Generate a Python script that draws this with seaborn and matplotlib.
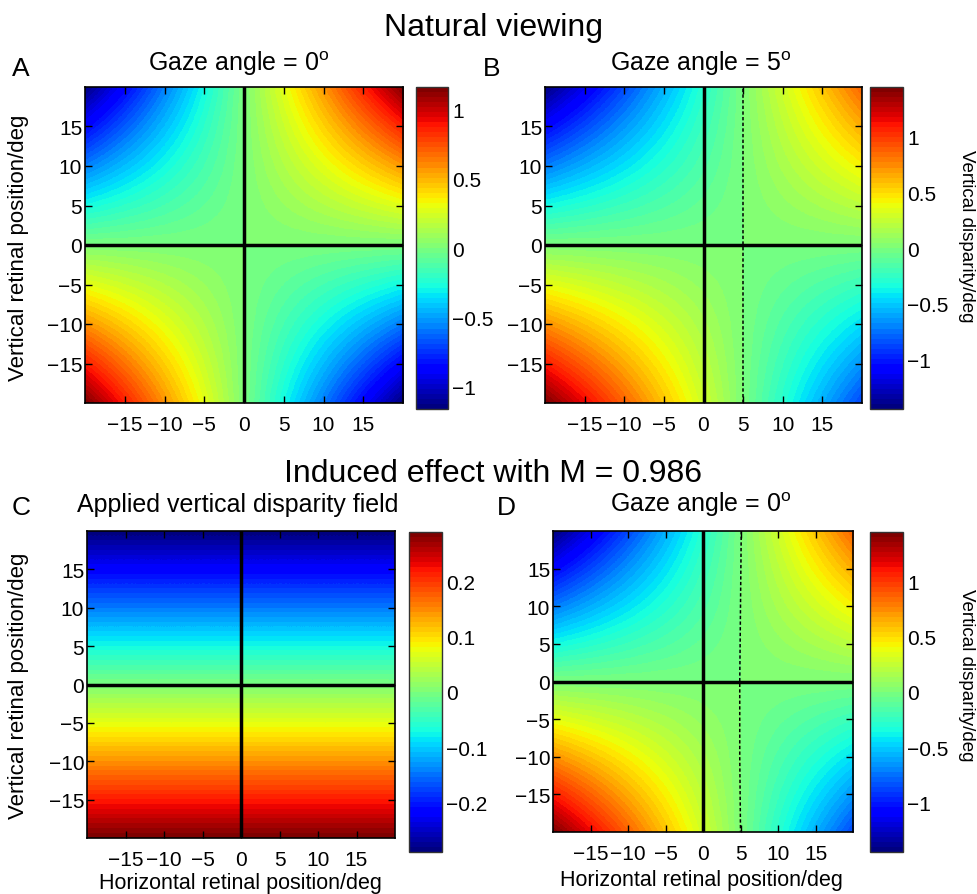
import numpy as np
import matplotlib
matplotlib.use("Agg")
import matplotlib.pyplot as plt
import seaborn as sns
from matplotlib.colors import ListedColormap, Normalize
from matplotlib.ticker import FuncFormatter

# ---------------- data ----------------
x_nodes = [-20, -10, 0, 10, 20]
y_nodes = [20, 10, 0, -10, -20]          # top row first

# A: natural viewing, gaze 0 deg
field_A = [[-1.16, -0.58, 0.00, 0.58, 1.16],
           [-0.58, -0.29, 0.00, 0.29, 0.58],
           [0.00, 0.00, 0.00, 0.00, 0.00],
           [0.58, 0.29, 0.00, -0.29, -0.58],
           [1.16, 0.58, 0.00, -0.58, -1.16]]
# B: natural viewing, gaze 5 deg
field_B = [[-1.45, -0.87, -0.29, 0.29, 0.87],
           [-0.73, -0.44, -0.15, 0.15, 0.44],
           [0.00, 0.00, 0.00, 0.00, 0.00],
           [0.73, 0.44, 0.15, -0.15, -0.44],
           [1.45, 0.87, 0.29, -0.29, -0.87]]
# C: applied vertical disparity field
field_C = [[-0.29, -0.29, -0.29, -0.29, -0.29],
           [-0.145, -0.145, -0.145, -0.145, -0.145],
           [0.00, 0.00, 0.00, 0.00, 0.00],
           [0.145, 0.145, 0.145, 0.145, 0.145],
           [0.29, 0.29, 0.29, 0.29, 0.29]]
# D: induced effect, gaze 0 deg
field_D = [[-1.45, -0.87, -0.29, 0.29, 0.87],
           [-0.73, -0.44, -0.15, 0.15, 0.44],
           [0.00, 0.00, 0.00, 0.00, 0.00],
           [0.73, 0.44, 0.15, -0.15, -0.44],
           [1.45, 0.87, 0.29, -0.29, -0.87]]

clim_A, clim_B, clim_C, clim_D = 1.16, 1.45, 0.29, 1.45
cticks_A = [-1, -0.5, 0, 0.5, 1]
cticks_B = [-1, -0.5, 0, 0.5, 1]
cticks_C = [-0.2, -0.1, 0, 0.1, 0.2]
cticks_D = [-1, -0.5, 0, 0.5, 1]
axis_ticks = [-15, -10, -5, 0, 5, 10, 15]

zero_B_x = [5.0, 5.0]
zero_B_y = [-20, 20]
zero_D_x = [5.1, 5.0, 4.9, 4.9, 5.0]
zero_D_y = [20, 10, 0, -10, -20]

# ---------------- style ----------------
sns.set_theme(style="white")
plt.rcParams['font.family'] = ['Liberation Sans', 'DejaVu Sans']
plt.rcParams['mathtext.fontset'] = 'custom'
plt.rcParams['mathtext.rm'] = 'Liberation Sans'
plt.rcParams['text.color'] = 'black'
plt.rcParams['axes.labelcolor'] = 'black'
plt.rcParams['xtick.color'] = 'black'
plt.rcParams['ytick.color'] = 'black'
plt.rcParams['axes.edgecolor'] = 'black'
cmap = ListedColormap(matplotlib.colormaps['jet'](np.linspace(0, 1, 64)))

W, H = 977, 895
fig = plt.figure(figsize=(W / 100, H / 100), dpi=100)
fig.patch.set_facecolor('white')


def box(l, t, r, b):
    return [l / W, 1 - b / H, (r - l) / W, (b - t) / H]


def ftxt(x, y, s, **kw):
    fig.text(x / W, 1 - y / H, s, color='black', **kw)


def fmt(v, pos):
    return ('%g' % v).replace('-', '\u2212')


def draw_panel(rect, cbrect, field, lim, cticks, zero=None):
    ax = fig.add_axes(box(*rect))
    Z = np.array(field)
    dx = x_nodes[1] - x_nodes[0]
    ext = [x_nodes[0] - dx / 2, x_nodes[-1] + dx / 2,
           y_nodes[-1] - dx / 2, y_nodes[0] + dx / 2]
    im = ax.imshow(Z, cmap=cmap, norm=Normalize(-lim, lim), extent=ext,
                   origin='upper', interpolation='bilinear',
                   interpolation_stage='data', aspect='auto')
    ax.set_xlim(-20, 20)
    ax.set_ylim(-20, 20)
    ax.axvline(0, color='black', lw=2.5)
    ax.axhline(0, color='black', lw=2.5)
    if zero is not None:
        ax.plot(zero[0], zero[1], color='black', lw=1.1, ls=(0, (2.2, 1.5)))
    ax.set_xticks(axis_ticks)
    ax.set_yticks(axis_ticks)
    ax.xaxis.set_major_formatter(FuncFormatter(fmt))
    ax.yaxis.set_major_formatter(FuncFormatter(fmt))
    ax.tick_params(direction='in', top=True, right=True, bottom=True, left=True,
                   length=5, width=1, labelsize=15, colors='black')
    ax.tick_params(axis='y', pad=2)
    ax.tick_params(axis='x', pad=8.5)
    for s in ax.spines.values():
        s.set_linewidth(1.2)
        s.set_color('black')
    cax = fig.add_axes(box(*cbrect))
    cb = fig.colorbar(im, cax=cax, ticks=cticks, format=FuncFormatter(fmt))
    cb.outline.set_linewidth(1.0)
    cb.outline.set_edgecolor('#333333')
    cax.tick_params(direction='in', left=True, right=True, labelleft=False,
                    labelright=True, length=4, width=0.8, labelsize=15, pad=3,
                    colors='black')
    return ax


draw_panel((85, 88, 403, 404), (416, 88, 448, 410), field_A, clim_A, cticks_A)
draw_panel((545, 88, 862, 404), (870, 88, 903, 410), field_B, clim_B, cticks_B,
           zero=(zero_B_x, zero_B_y))
draw_panel((87, 532, 395, 839), (409, 533, 442, 853), field_C, clim_C, cticks_C)
draw_panel((553, 532, 853, 833), (870, 533, 903, 853), field_D, clim_D, cticks_D,
           zero=(zero_D_x, zero_D_y))

# ---------------- texts ----------------
ftxt(494, 36, "Natural viewing", fontsize=23, ha='center', va='baseline')
ftxt(493, 482, "Induced effect with M = 0.986", fontsize=23, ha='center', va='baseline')
ftxt(12, 76, "A", fontsize=19, ha='left', va='baseline')
ftxt(483, 76, "B", fontsize=19, ha='left', va='baseline')
ftxt(12, 515, "C", fontsize=19, ha='left', va='baseline')
ftxt(497, 515, "D", fontsize=19, ha='left', va='baseline')
ftxt(239, 71, r"Gaze angle = 0$^\mathrm{o}$", fontsize=18, ha='center', va='baseline')
ftxt(701, 71, r"Gaze angle = 5$^\mathrm{o}$", fontsize=18, ha='center', va='baseline')
ftxt(238, 512, "Applied vertical disparity field", fontsize=18, ha='center', va='baseline')
ftxt(701, 512, r"Gaze angle = 0$^\mathrm{o}$", fontsize=18, ha='center', va='baseline')

ftxt(19, 248, "Vertical retinal position/deg", fontsize=16, rotation=90,
     ha='center', va='center')
ftxt(19, 686, "Vertical retinal position/deg", fontsize=16, rotation=90,
     ha='center', va='center')
ftxt(240, 889, "Horizontal retinal position/deg", fontsize=15.5, ha='center', va='baseline')
ftxt(701, 886, "Horizontal retinal position/deg", fontsize=15.5, ha='center', va='baseline')
ftxt(966, 236, "Vertical disparity/deg", fontsize=13.5, rotation=270,
     ha='center', va='center')
ftxt(966, 675, "Vertical disparity/deg", fontsize=13.5, rotation=270,
     ha='center', va='center')

fig.savefig("out.png", dpi=100, facecolor='white')
